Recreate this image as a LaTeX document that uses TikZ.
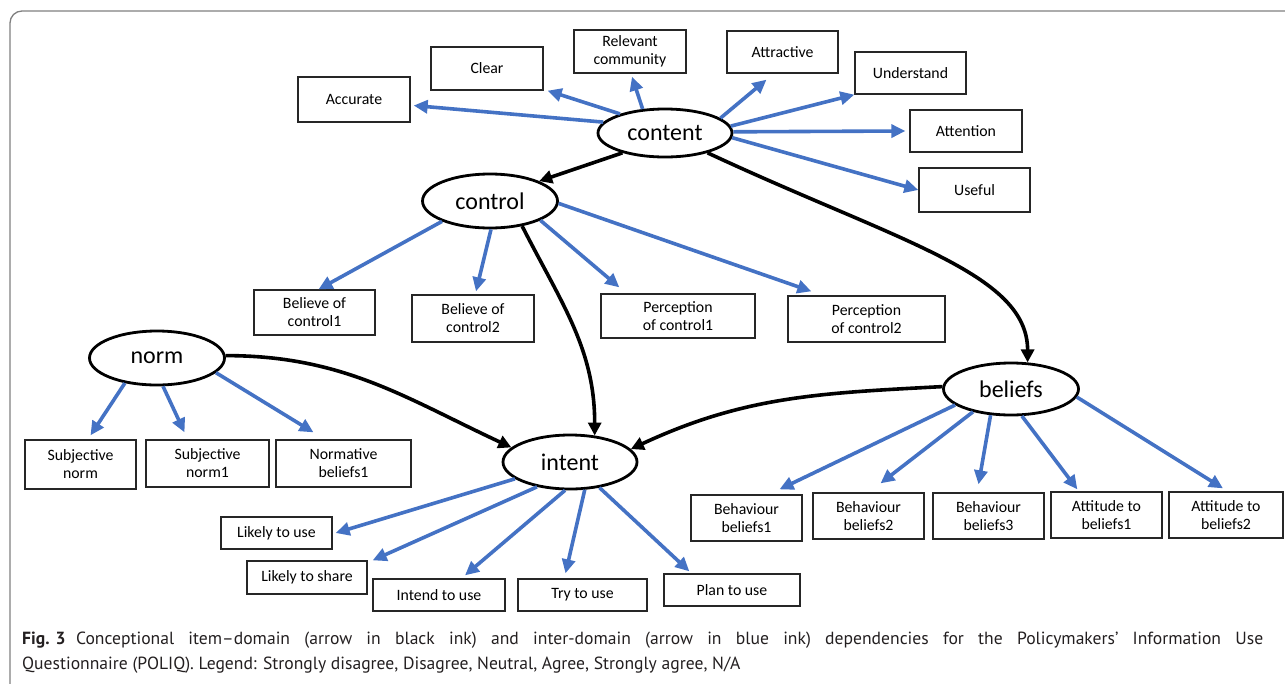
\documentclass[tikz,border=0pt]{standalone}
\usepackage{fontspec}
\setmainfont{Carlito}
\newfontfamily\capfont{PT Sans}
\usetikzlibrary{shapes.geometric,arrows.meta}
\definecolor{inkblue}{RGB}{68,114,196}
\definecolor{framegray}{RGB}{128,128,128}
\definecolor{captext}{RGB}{35,31,32}
\tikzset{
  domnode/.style={ellipse,draw,line width=2.8pt,inner sep=0pt,font=\fontsize{24}{27}\selectfont},
  itembox/.style 2 args={rectangle,draw=black!85,line width=1.3pt,inner sep=0pt,align=center,
    minimum width=#1pt,minimum height=#2pt,font=\fontsize{15.8}{18}\selectfont},
  blue arrow/.style={inkblue,line width=3.6pt,-{Triangle[length=14pt,width=13pt]}},
  black arrow/.style={black,line width=3.6pt,-{Triangle[length=13pt,width=13pt]}},
  captionline/.style={anchor=base west,inner sep=0pt,text=captext,font=\capfont\fontsize{17.6}{25}\selectfont},
}
\begin{document}
\begin{tikzpicture}[x=1pt,y=-1pt]
\useasboundingbox (0,0) rectangle (1285,683);
\draw[framegray,line width=1.3pt,rounded corners=12pt] (10,11) rectangle (1310,710);

% domains
\node[domnode,minimum width=134pt,minimum height=48pt] (content) at (665,133) {content};
\node[domnode,minimum width=135pt,minimum height=54pt] (control) at (490,201) {control};
\node[domnode,minimum width=135pt,minimum height=54pt] (norm) at (157,358) {norm};
\node[domnode,minimum width=134pt,minimum height=54pt] (intent) at (570,462) {intent};
\node[domnode,minimum width=135pt,minimum height=52pt] (beliefs) at (1011,389) {beliefs};

% items of content
\node[itembox={112}{45}] (acc) at (354,99.5) {Accurate};
\node[itembox={112}{43}] (clear) at (487,68.5) {Clear};
\node[itembox={112}{43}] (relev) at (630,51.5) {Relevant\\community};
\node[itembox={111}{42}] (attr) at (782.5,52) {Attractive};
\node[itembox={111}{42}] (under) at (910.5,73) {Understand};
\node[itembox={112}{42}] (atten) at (966,131) {Attention};
\node[itembox={111}{44}] (useful) at (974.5,190) {Useful};

% items of control
\node[itembox={121}{45}] (bc1) at (314.5,312.5) {Believe of\\control1};
\node[itembox={122}{47}] (bc2) at (473,318.5) {Believe of\\control2};
\node[itembox={154}{44}] (pc1) at (678,316) {Perception\\of control1};
\node[itembox={157}{46}] (pc2) at (866.5,319) {Perception\\of control2};

% items of norm
\node[itembox={111}{49}] (sn) at (80.5,464.5) {Subjective\\norm};
\node[itembox={123}{47}] (sn1) at (207.5,463.5) {Subjective\\norm1};
\node[itembox={135}{47}] (nb1) at (343.5,463.5) {Normative\\beliefs1};

% items of intent
\node[itembox={111}{32}] (ltu) at (276.5,533) {Likely to use};
\node[itembox={120}{33}] (lts) at (307,577.5) {Likely to share};
\node[itembox={132}{32}] (itu) at (439,595) {Intend to use};
\node[itembox={129}{32}] (ttu) at (582.5,595) {Try to use};
\node[itembox={136}{32}] (ptu) at (732,590) {Plan to use};

% items of beliefs
\node[itembox={111}{46}] (bb1) at (746.5,518) {Behaviour\\beliefs1};
\node[itembox={111}{46}] (bb2) at (868.5,516) {Behaviour\\beliefs2};
\node[itembox={111}{46}] (bb3) at (988.5,516) {Behaviour\\beliefs3};
\node[itembox={111}{46}] (ab1) at (1106.5,515) {Attitude to\\beliefs1};
\node[itembox={114}{46}] (ab2) at (1226,515) {Attitude to\\beliefs2};

% inter-domain arrows
\draw[black arrow] (content.205) -- (control.22);
\draw[black arrow] (content.-25) to[out=-25,in=90,out looseness=1.4,in looseness=0.6] (beliefs.58);
\draw[black arrow] (control.-38) to[out=-63,in=90] (intent.47);
\draw[black arrow] (norm.2) to[out=0,in=155] (intent.166);
\draw[black arrow] (beliefs.178) to[out=183,in=25] (intent.12);

% content
\draw[blue arrow] (content.170) -- ([shift={(3,6)}]acc.east);
\draw[blue arrow] (content.157) -- ([xshift=4]clear.south east);
\draw[blue arrow] (content.133) -- ([shift={(2,3)}]relev.south);
\draw[blue arrow] (content.15) -- ([shift={(-16,6)}]attr.south);
\draw[blue arrow] (content.6) -- (under.south west);
\draw[blue arrow] (content.1) -- ([xshift=-4]atten.west);
\draw[blue arrow] (content.-4) -- (useful.west);

% control
\draw[blue arrow] (control.203) -- ([xshift=4]bc1.north);
\draw[blue arrow] (control.-88) -- ([shift={(3,-3)}]bc2.north);
\draw[blue arrow] (control.-21) -- ([shift={(19,-6)}]pc1.north west);
\draw[blue arrow] (control.-2) -- ([shift={(24,-4)}]pc2.north west);

% norm
\draw[blue arrow] (norm.218) -- ([shift={(10,-4)}]sn.north);
\draw[blue arrow] (norm.-78) -- ([shift={(-23,-7)}]sn1.north);
\draw[blue arrow] (norm.-14) -- ([shift={(-30,-7)}]nb1.north);

% intent
\draw[blue arrow] (intent.197) -- ([xshift=3]ltu.east);
\draw[blue arrow] (intent.217) -- ([xshift=5]lts.north east);
\draw[blue arrow] (intent.260) -- ([shift={(26,-3)}]itu.north);
\draw[blue arrow] (intent.298) -- ([shift={(-17,-5)}]ttu.north);
\draw[blue arrow] (intent.-41) -- ([shift={(26,-2)}]ptu.north west);

% beliefs
\draw[blue arrow] (beliefs.196) -- ([shift={(33,-5)}]bb1.north);
\draw[blue arrow] (beliefs.211) -- ([shift={(12,-9)}]bb2.north);
\draw[blue arrow] (beliefs.232) -- ([shift={(-10,-8)}]bb3.north);
\draw[blue arrow] (beliefs.-68) -- ([shift={(27,-2)}]ab1.north west);
\draw[blue arrow] (beliefs.-7) -- ([shift={(-3,-3)}]ab2.north);

% caption (first line justified)
\node[captionline] (cap1) at (22,644)
  {\makebox[1241pt][s]{\mbox{\textbf{Fig. 3}}\hspace{0.6em}Conceptional item–domain (arrow in black ink) and inter-domain (arrow in blue ink) dependencies for the Policymakers’ Information Use}};
\node[captionline] (cap2) at (22,669)
  {Questionnaire (POLIQ). Legend: Strongly disagree, Disagree, Neutral, Agree, Strongly agree, N/A};
\end{tikzpicture}
\end{document}
